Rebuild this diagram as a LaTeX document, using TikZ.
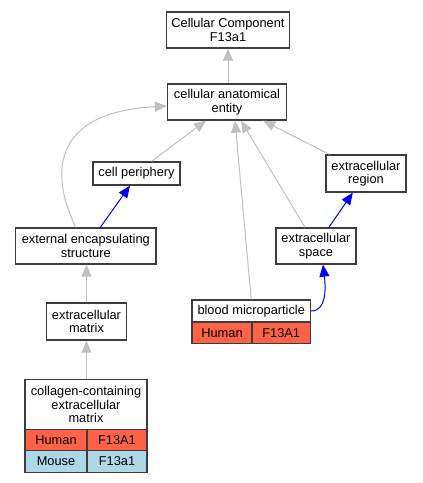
\documentclass[tikz,border=0pt]{standalone}
\usepackage{fontspec}
\setmainfont{Liberation Sans}
\usetikzlibrary{arrows.meta}
\definecolor{bordo}{RGB}{60,60,60}
\definecolor{grigio}{RGB}{192,192,192}
\definecolor{umano}{RGB}{255,99,71}
\definecolor{topo}{RGB}{173,216,230}

\begin{document}
\begin{tikzpicture}[x=1pt,y=-1pt,
    termine/.style={draw=bordo,line width=1.3pt,fill=white,inner sep=0pt,align=center,
      font=\fontsize{12.8}{13.5}\selectfont},
    isa/.style={draw=grigio,line width=1pt,-{Triangle[length=12pt,width=10pt]}},
    partof/.style={draw=blue,line width=1pt,-{Triangle[length=12pt,width=10pt]}}]
        \useasboundingbox (0,0) rectangle (423,483);

        % Termini
        \node[termine,minimum width=122.5,minimum height=36] (cc) at (228,30) {Cellular Component\\F13a1};
        \node[termine,minimum width=119,minimum height=36] (cae) at (227,102) {cellular anatomical\\entity};
        \node[termine,minimum width=87,minimum height=23] (cp) at (136.5,173.5) {cell periphery};
        \node[termine,minimum width=80,minimum height=37] (er) at (366,173.5) {extracellular\\region};
        \node[termine,minimum width=140.5,minimum height=36] (ees) at (85.8,246) {external encapsulating\\structure};
        \node[termine,minimum width=80,minimum height=36] (es) at (316,246) {extracellular\\space};
        \node[termine,minimum width=80,minimum height=37] (ecm) at (86.5,321.5) {extracellular\\matrix};

        % Termini con geni
        \node[termine,minimum width=118.5,minimum height=22] (bm) at (251.25,311) {blood microparticle};
        \node[termine,fill=umano,minimum width=60,minimum height=21.5] (bmh) at (222,332.75) {Human};
        \node[termine,fill=umano,minimum width=58.5,minimum height=21.5] (bmg) at (281.25,332.75) {F13A1};
        \node[termine,minimum width=122,minimum height=49.5] (col) at (86,404.5) {collagen-containing\\extracellular\\matrix};
        \node[termine,fill=umano,minimum width=62,minimum height=21.5] (colh) at (56,440) {Human};
        \node[termine,fill=umano,minimum width=60,minimum height=21.5] (colg) at (117,440) {F13A1};
        \node[termine,fill=topo,minimum width=62,minimum height=21.5] (colm) at (56,461.5) {Mouse};
        \node[termine,fill=topo,minimum width=60,minimum height=21.5] (colmg) at (117,461.5) {F13a1};

        % Archi is_a
        \draw[isa] (cc |- cae.north) -- (cc);
        \draw[isa] ([xshift=15pt]cp.north) -- ([xshift=-21pt]cae.south);
        \draw[isa] ([xshift=-10pt]ees.north) .. controls (48,170) and (55,112) .. ([yshift=-4pt]cae.west);
        \draw[isa] (bm.north) -- ([xshift=8pt]cae.south);
        \draw[isa] ([xshift=-11pt]es.north) -- ([xshift=14pt]cae.south);
        \draw[isa] ([xshift=4pt]er.north west) -- ([xshift=-24pt]cae.south east);
        \draw[isa] (ecm) -- (ecm |- ees.south);
        \draw[isa] (ecm |- col.north) -- (ecm);

        % Archi part_of
        \draw[partof] ([xshift=14.5pt]ees.north) -- ([xshift=-6.5pt]cp.south);
        \draw[partof] (es) -- (er);
        \draw[partof] (bm.east) .. controls (326,311) and (326,290) .. ([xshift=7pt]es.south);
\end{tikzpicture}
\end{document}
